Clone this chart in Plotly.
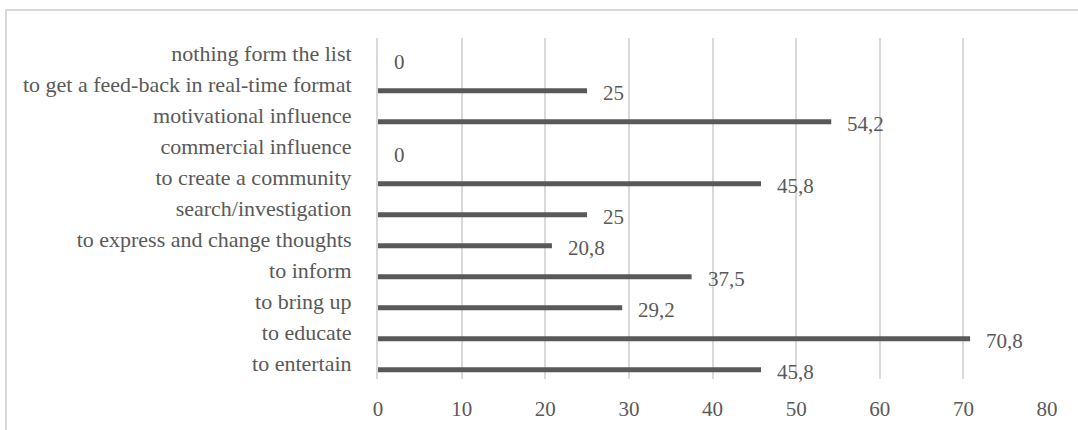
import plotly.graph_objects as go

categories = [
    "to entertain",
    "to educate",
    "to bring up",
    "to inform",
    "to express and change thoughts",
    "search/investigation",
    "to create a community",
    "commercial influence",
    "motivational influence",
    "to get a feed-back in real-time format",
    "nothing form the list",
]
values = [45.8, 70.8, 29.2, 37.5, 20.8, 25, 45.8, 0, 54.2, 25, 0]
x_ticks = [0, 10, 20, 30, 40, 50, 60, 70, 80]

def fmt(v):
    s = ("%g" % v)
    return s.replace(".", ",")

FONT = "Liberation Serif, Times New Roman, serif"
TXT = "#595959"
BAR = "#595959"
GRID = "#d9d9d9"

W, H = 1078, 430
L, R, T, B = 378, 31, 38, 51

fig = go.Figure()
fig.add_trace(go.Bar(
    y=categories, x=values, orientation="h",
    marker=dict(color=BAR, line=dict(width=0)),
    width=0.16, offset=-0.28,
    hoverinfo="skip",
))

annotations = []
for c, v in zip(categories, values):
    annotations.append(dict(
        x=v, y=c, xref="x", yref="y", text=fmt(v), showarrow=False,
        xanchor="left", yanchor="middle", xshift=14, yshift=-8,
        font=dict(family=FONT, size=21, color=TXT),
    ))

pw = W - L - R
ph = H - T - B
shapes = [dict(
    type="rect", xref="paper", yref="paper",
    x0=(6 - L) / pw, x1=(W + 20 - L) / pw,
    y0=(H - T - B - (H + 20 - T)) / ph, y1=(H - B - 10) / ph,
    line=dict(color=GRID, width=2), fillcolor="rgba(0,0,0,0)", layer="below",
)]

fig.update_layout(
    width=W, height=H,
    margin=dict(l=L, r=R, t=T, b=B, pad=0, autoexpand=False),
    paper_bgcolor="white", plot_bgcolor="white",
    showlegend=False,
    font=dict(family=FONT, size=21, color=TXT),
    xaxis=dict(
        range=[0, 80], tickvals=x_ticks, ticktext=[str(t) for t in x_ticks],
        showgrid=True, gridcolor=GRID, gridwidth=2,
        zeroline=False, showline=False, automargin=False,
        ticks="outside", ticklen=11, tickcolor="rgba(0,0,0,0)",
        tickfont=dict(family=FONT, size=21, color=TXT),
        fixedrange=True,
    ),
    yaxis=dict(
        type="category", categoryorder="array", categoryarray=categories,
        range=[-0.5, len(categories) - 0.5],
        showgrid=False, zeroline=False, automargin=False,
        showline=True, linecolor=GRID, linewidth=2,
        ticks="outside", ticklen=20, tickcolor="rgba(0,0,0,0)",
        tickfont=dict(family=FONT, size=22, color=TXT),
        fixedrange=True,
    ),
    annotations=annotations,
    shapes=shapes,
)

fig.write_html("out.html")
